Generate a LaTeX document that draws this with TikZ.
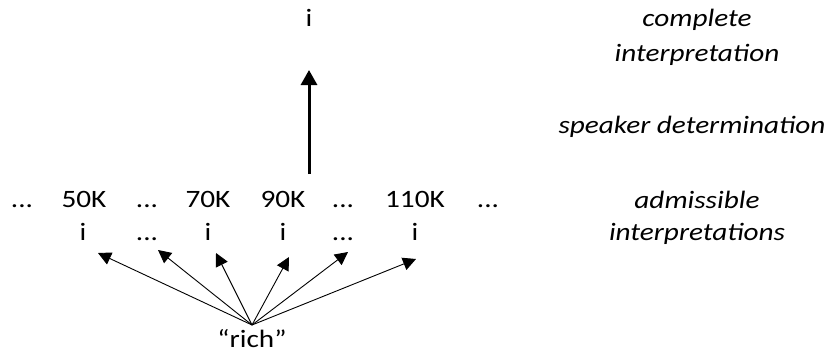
\documentclass[tikz,border=0pt]{standalone}
\usepackage{fontspec}
\setmainfont{Carlito}
\usetikzlibrary{arrows.meta}
\newcommand\sx[1]{\scalebox{1.17}[1]{#1}}
\begin{document}
\begin{tikzpicture}[x=1pt,y=-1pt,
  lbl/.style={font=\fontsize{25}{30}\selectfont, inner sep=0pt, anchor=base},
  side/.style={font=\fontsize{25}{30}\selectfont\itshape, inner sep=0pt, anchor=base},
  thin arrow/.style={line width=0.9pt, -{Triangle[length=13pt,width=13pt]}},
  thick arrow/.style={line width=3pt, -{Triangle[length=15pt,width=16pt]}}]
\useasboundingbox (0,0) rectangle (831,356);
% top
\node[lbl] (top) at (309,27) {\sx{i}};
\coordinate (upbase) at (309,174);
\coordinate (uptip) at (309,70);
\draw[thick arrow] (upbase) -- (uptip);
% side labels
\node[side] (c1) at (697,27) {\sx{complete}};
\node[side] (c2) at (697,61) {\sx{interpretation}};
\node[side] (sd) at (692,133) {\sx{speaker determination}};
\node[side] (a1) at (697,208) {\sx{admissible}};
\node[side] (a2) at (697,240) {\sx{interpretations}};
% row 1
\node[lbl] (d1) at (22,207) {\sx{...}};
\node[lbl] (k50) at (84,207) {\sx{50K}};
\node[lbl] (d2) at (147,207) {\sx{...}};
\node[lbl] (k70) at (208,207) {\sx{70K}};
\node[lbl] (k90) at (283,207) {\sx{90K}};
\node[lbl] (d3) at (343,207) {\sx{...}};
\node[lbl] (k110) at (415,207) {\sx{110K}};
\node[lbl] (d4) at (488,207) {\sx{...}};
% row 2
\node[lbl] (i1) at (83,240) {\sx{i}};
\node[lbl] (e1) at (147,240) {\sx{...}};
\node[lbl] (i2) at (208,240) {\sx{i}};
\node[lbl] (i3) at (283,240) {\sx{i}};
\node[lbl] (e2) at (343,240) {\sx{...}};
\node[lbl] (i4) at (415,240) {\sx{i}};
% rich
\node[lbl] (rich) at (252,347) {\sx{“rich”}};
\coordinate (src) at (252,325);
\coordinate (t1) at (98,253);
\coordinate (t2) at (158,250);
\coordinate (t3) at (216,253);
\coordinate (t4) at (289,257);
\coordinate (t5) at (348,252);
\coordinate (t6) at (416,259);
\foreach \t in {t1,t2,t3,t4,t5,t6}
  \draw[thin arrow] (src) -- (\t);
\end{tikzpicture}
\end{document}
